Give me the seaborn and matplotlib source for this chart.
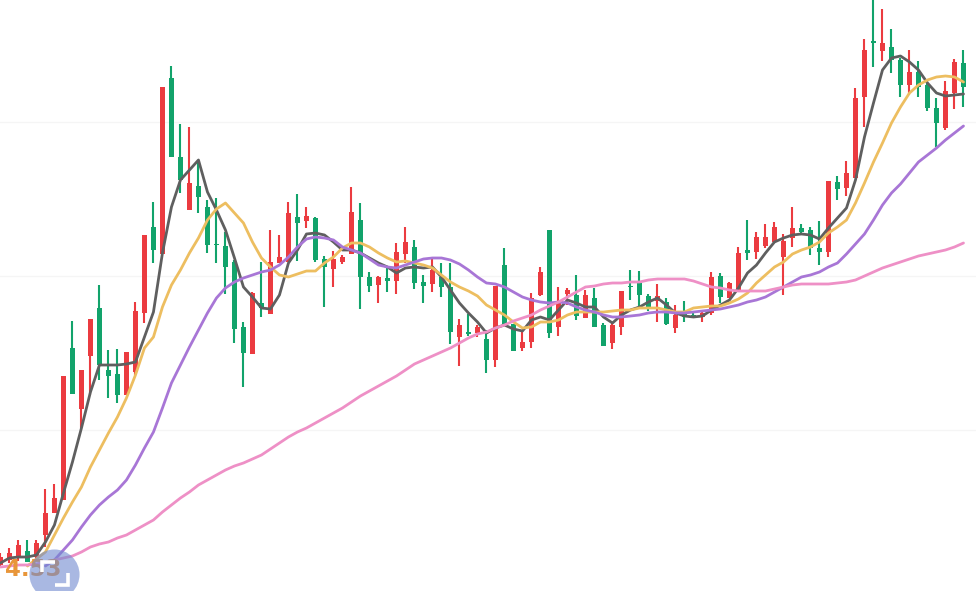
import matplotlib
matplotlib.use("Agg")
import matplotlib.pyplot as plt
import numpy as np
import pandas as pd
import seaborn as sns

nan = float("nan")

# candles, in chart units (no axis labels visible on the reference)
highs = [38,43,51,51,51,102,107,215,270,221,272,306,241,242,239,289,356,389,504,525,
         467,464,431,391,393,359,331,269,299,329,361,356,389,397,384,374,335,340,336,404,
         388,319,315,323,348,364,351,316,334,328,328,272,277,266,261,305,343,267,259,298,
         324,361,304,303,316,301,303,268,268,300,321,320,297,307,293,286,290,279,279,319,
         318,309,344,371,359,367,369,357,384,367,364,370,410,415,430,503,552,596,582,562,
         533,541,530,511,493,510,532,541]
opens = [26,31,33,40,34,56,78,91,243,182,235,283,221,217,196,219,278,364,337,513,
         434,381,405,384,347,345,329,264,237,288,277,328,329,374,370,373,332,322,329,337,
         371,314,306,313,310,337,344,309,307,314,304,254,259,258,252,231,326,267,243,249,
         296,361,264,297,296,273,293,266,248,264,305,308,295,290,289,263,278,276,274,278,
         315,293,301,341,339,345,349,334,353,363,361,343,339,409,403,413,494,550,540,544,
         531,506,519,506,483,463,498,528]
closes = [34,38,46,29,48,78,93,215,197,221,272,226,215,196,239,280,356,341,504,434,
          411,408,394,346,346,324,262,238,298,283,329,334,378,368,375,331,324,332,334,379,
          314,305,314,310,339,349,308,305,321,304,259,266,257,264,231,305,267,240,249,293,
          319,258,289,301,275,296,264,245,266,300,304,296,284,295,267,276,274,274,278,314,
          294,308,338,338,354,354,364,350,363,359,343,339,410,402,418,493,541,548,548,531,
          506,519,504,483,468,500,529,504]
lows = [23,28,30,29,31,44,78,91,197,163,196,211,193,188,196,216,268,328,337,434,
        398,381,378,338,328,297,248,204,237,274,277,328,329,330,363,329,284,304,327,337,
        282,299,288,299,297,328,302,288,299,294,247,225,255,254,218,224,265,240,240,243,
        295,253,255,286,271,273,264,245,242,256,291,284,280,269,266,258,269,274,269,276,
        288,293,301,331,332,343,349,296,344,358,336,326,334,391,395,413,464,524,530,518,
        494,496,494,480,444,461,482,484]

# moving averages
ma5 = [28,33,34,34,36,49,66,98,129,163,199,226,226,226,227,229,254,279,338,384,
       411,421,431,399,381,361,333,304,294,283,282,296,328,341,357,358,356,349,341,341,
       338,333,328,324,318,323,324,323,324,314,301,288,278,269,258,263,266,262,260,271,
       274,271,281,291,288,284,284,274,268,276,281,284,289,293,286,278,275,274,275,281,
       286,291,303,318,326,338,349,353,356,357,356,352,363,373,383,411,454,488,521,533,
       535,529,521,508,498,495,496,497]
ma10 = [nan,nan,nan,25,32,39,56,73,89,104,124,141,158,174,193,216,243,254,284,306,
        321,338,353,371,382,388,378,368,349,333,324,316,314,317,320,320,328,334,343,348,
        348,344,338,333,329,330,328,326,323,316,309,304,300,295,286,281,276,269,263,264,
        269,269,271,276,279,279,279,279,280,281,281,283,283,283,281,279,279,283,284,285,
        285,288,292,298,308,316,324,329,337,341,344,349,358,364,371,388,408,429,448,468,
        484,498,506,511,514,515,514,509]
ma20 = [nan,nan,nan,nan,nan,25,31,41,51,64,76,86,94,101,111,126,143,159,183,208,
        226,244,261,278,293,303,309,313,316,319,321,326,334,344,352,354,353,351,344,341,
        338,332,326,324,323,326,329,332,333,333,331,327,321,314,308,307,304,299,294,291,
        289,288,289,288,284,281,279,276,274,274,275,276,278,279,279,278,278,279,280,281,
        282,284,286,289,291,294,299,304,309,314,316,319,324,328,337,347,357,371,386,398,
        407,418,429,436,443,451,458,465]
ma60 = [24,25,26,26,27,29,31,33,35,39,44,47,49,53,56,61,66,71,79,86,
        93,99,106,111,116,121,125,128,132,136,142,148,154,159,163,168,173,178,183,189,
        195,200,205,210,215,221,227,231,235,239,243,248,253,257,259,263,266,270,273,276,
        281,285,289,294,299,304,305,307,308,308,309,309,311,312,312,312,312,310,307,304,
        303,301,300,300,300,300,302,304,306,307,307,307,307,308,309,311,315,319,323,326,
        329,332,335,337,339,341,344,348]

grid_levels = [161, 315, 469]
price_label = "4.53"

RED = "#EB3B40"
GREEN = "#12A36B"

df = pd.DataFrame({"open": opens, "high": highs, "low": lows, "close": closes,
                   "ma5": ma5, "ma10": ma10, "ma20": ma20, "ma60": ma60})
df["idx"] = np.arange(len(df))
df["cor"] = np.where(df["close"] >= df["open"], RED, GREEN)

sns.set_theme(style="white")
fig = plt.figure(figsize=(9.76, 5.91), dpi=100)
ax = fig.add_axes([0, 0, 1, 1])

# candles
ax.vlines(df["idx"], df["low"], df["high"], colors=df["cor"], linewidth=1.5, zorder=2)
ax.bar(df["idx"], (df["close"] - df["open"]).abs().clip(lower=1),
       bottom=df[["open", "close"]].min(axis=1), width=0.58, color=df["cor"],
       linewidth=0, zorder=2)

# moving averages
for col, cor in [("ma5", "#5F5F5F"), ("ma10", "#EDBE60"),
                 ("ma20", "#A876D6"), ("ma60", "#EE90C6")]:
    sns.lineplot(data=df, x="idx", y=col, color=cor, linewidth=2.0, errorbar=None,
                 ax=ax, zorder=3)

ax.set_xlim(-0.05, 108.39)
ax.set_ylim(0, 591)
ax.set_yticks(grid_levels)
ax.set_xticks([])
ax.tick_params(left=False, labelleft=False)
ax.set_xlabel("")
ax.set_ylabel("")
ax.grid(axis="y", color="#F5F5F5", linewidth=1)
ax.set_axisbelow(True)
sns.despine(ax=ax, left=True, bottom=True)

# price tag and the round zoom button on top of it
ax.text(0.55, 15, price_label, color="#E8963A", fontsize=16.5, fontweight="bold",
        ha="left", va="baseline", zorder=4)
ax.scatter([6], [17], s=1300, color="#708AD0", alpha=0.6, linewidth=0, zorder=5)
ax.plot([4.6, 4.6, 6.1], [19, 29, 29], color="white", linewidth=2.6, zorder=6,
        solid_joinstyle="miter", solid_capstyle="butt")
ax.plot([6.1, 7.5, 7.5], [6, 6, 18], color="white", linewidth=2.6, zorder=6,
        solid_joinstyle="miter", solid_capstyle="butt")

fig.savefig("out.png", dpi=100)
